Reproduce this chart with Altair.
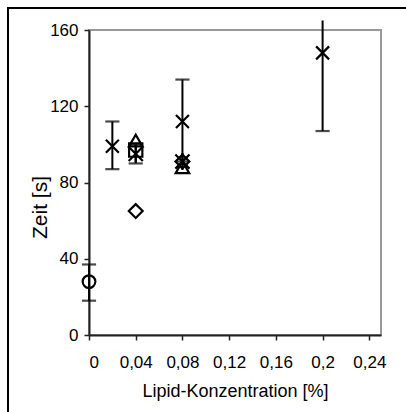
import altair as alt
import pandas as pd

# Measured drying times (s) against lipid concentration (%)
series = ["Kreis", "Kreuz", "Kreuz", "Kreuz", "Quadrat", "Dreieck", "Dreieck",
          "Raute", "Raute", "Stern", "Stern"]
conc = [0.0, 0.02, 0.08, 0.20, 0.04, 0.04, 0.08, 0.04, 0.08, 0.04, 0.08]
zeit = [28, 99, 112, 148, 97, 102, 88, 65, 91, 95, 91]

# Error bars (lower / upper limit)
err_conc = [0.0, 0.02, 0.08, 0.20, 0.04]
err_lo = [18, 87, 91, 107, 90]
err_hi = [37, 112, 134, 189, 100]

X_TICKS = [0, 0.04, 0.08, 0.12, 0.16, 0.2, 0.24]
Y_TICKS = [0, 40, 80, 120, 160]

points = pd.DataFrame({"serie": series, "conc": conc, "zeit": zeit})
errors = pd.DataFrame({"conc": err_conc, "lo": err_lo, "hi": err_hi})

FONT = "Liberation Sans"

xscale = alt.Scale(domain=[0, 0.25], nice=False, zero=True)
yscale = alt.Scale(domain=[0, 160], nice=False)

x_axis = alt.Axis(values=X_TICKS, title="Lipid-Konzentration [%]",
                  labelExpr="replace(format(datum.value, ''), '.', ',')",
                  grid=False, tickSize=5, labelPadding=14, titlePadding=12,
                  labelFontSize=17, titleFontSize=18)
y_axis = alt.Axis(values=Y_TICKS, title="Zeit [s]", grid=False,
                  tickSize=5, labelPadding=6, titleFontSize=21,
                  labelFontSize=17, titleAngle=270, titleAlign="center",
                  titleBaseline="middle", titleX=-49, titleY=177)

shape_map = {
    "Kreis": "circle",
    "Kreuz": "M-1,-1L1,1M-1,1L1,-1",
    "Quadrat": "square",
    "Dreieck": "triangle-up",
    "Raute": "diamond",
    "Stern": "M-1,-1L1,1M-1,1L1,-1M0,-1.2L0,1.2",
}
size_map = {"Kreis": 160, "Kreuz": 200, "Quadrat": 270, "Dreieck": 190,
            "Raute": 210, "Stern": 110}

base_err = alt.Chart(errors)

# vertical error lines; the top of the 0.2 bar runs off the chart area
err_lines = base_err.transform_calculate(
    top="min(datum.hi, 165)"
).mark_rule(color="black", strokeWidth=2).encode(
    x=alt.X("conc:Q", scale=xscale, axis=x_axis),
    y=alt.Y("lo:Q", scale=yscale, axis=y_axis),
    y2="top:Q",
)

cap_shape = "M-1,0L1,0"
caps_lo = base_err.mark_point(shape=cap_shape, size=200, color="black",
                              strokeWidth=2.2, filled=False).encode(
    x=alt.X("conc:Q", scale=xscale), y=alt.Y("lo:Q", scale=yscale))
caps_hi = base_err.transform_filter("datum.hi <= 160").mark_point(
    shape=cap_shape, size=200, color="black", strokeWidth=2.2, filled=False
).encode(x=alt.X("conc:Q", scale=xscale), y=alt.Y("hi:Q", scale=yscale))

order = list(shape_map.keys())
markers = alt.Chart(points).mark_point(
    filled=False, color="black", strokeWidth=2.2, opacity=1
).encode(
    x=alt.X("conc:Q", scale=xscale),
    y=alt.Y("zeit:Q", scale=yscale),
    shape=alt.Shape("serie:N", scale=alt.Scale(domain=order,
                    range=[shape_map[k] for k in order]), legend=None),
    size=alt.Size("serie:N", scale=alt.Scale(domain=order,
                  range=[size_map[k] for k in order]), legend=None),
)

# outer frame of the figure
frame_left = alt.Chart(errors).mark_rule(color="black", strokeWidth=2).encode(
    x=alt.value(-81), y=alt.value(-22), y2=alt.value(400))
frame_top = alt.Chart(errors).mark_rule(color="black", strokeWidth=2).encode(
    x=alt.value(-82), x2=alt.value(330), y=alt.value(-22))

chart = alt.layer(
    err_lines, caps_lo, caps_hi, markers, frame_left, frame_top
).properties(
    width=292, height=305,
    padding={"left": 89, "top": 30, "right": 25, "bottom": 77},
    autosize=alt.AutoSizeParams(type="none"),
    background="white",
).configure_view(
    stroke="#999999", strokeWidth=2
).configure_axis(
    domainColor="#222222", domainWidth=2, tickColor="#222222", tickWidth=1.5,
    labelFont=FONT, labelColor="black",
    titleFont=FONT, titleColor="black", titleFontWeight="normal",
)

chart.save("out.html", embed_options={"renderer": "svg", "actions": False})
